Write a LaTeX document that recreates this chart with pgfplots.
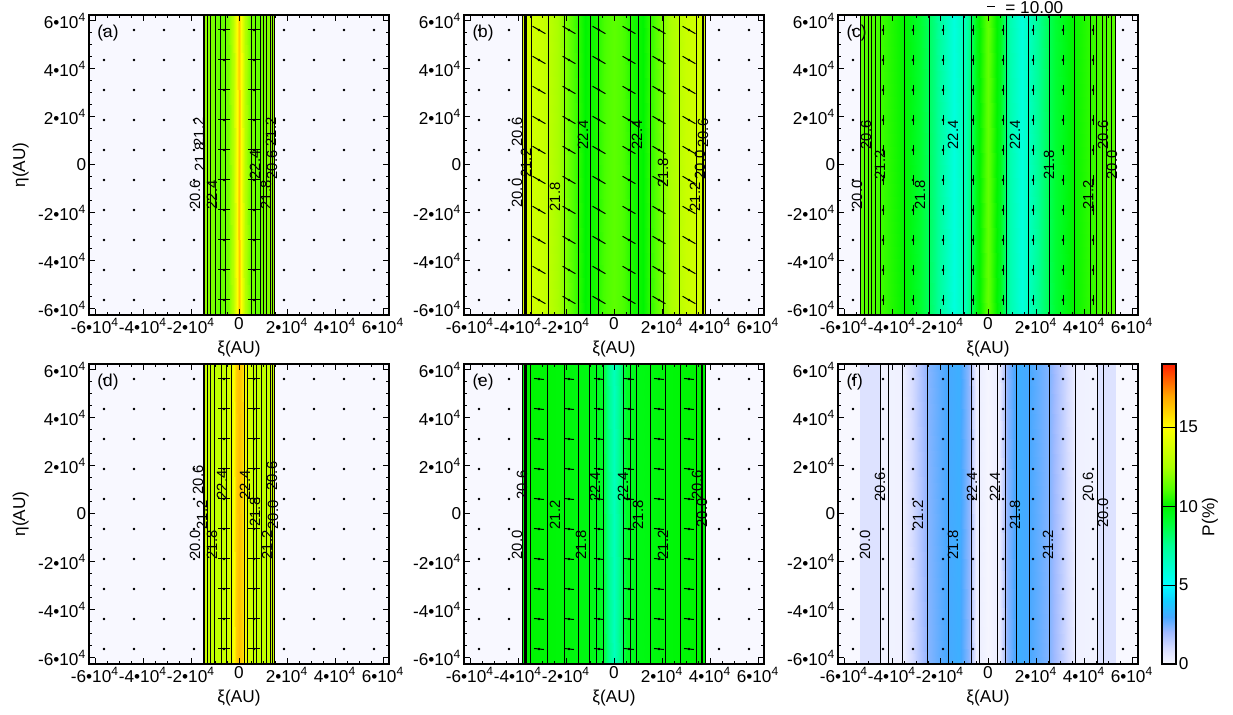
\documentclass[border=0pt]{standalone}
\usepackage{fontspec}
\setmainfont{Liberation Sans}
\usepackage{pgfplots}
\usepackage{pgfplotstable}
\pgfplotsset{compat=1.18}

\newcommand\tlf{\fontsize{8.6bp}{9.5bp}\selectfont}
\newcommand\clf{\fontsize{7.4bp}{8bp}\selectfont}

\tikzset{plab/.style={anchor=north west, inner sep=0pt, font=\tlf}}
\pgfplotsset{
  colormap={pcol}{rgb255(0pt)=(248,248,255) rgb255(1pt)=(214,220,255) rgb255(2pt)=(160,186,255)
    rgb255(3pt)=(72,168,255) rgb255(4pt)=(20,205,255) rgb255(5pt)=(0,255,255) rgb255(7.5pt)=(0,255,150)
    rgb255(9pt)=(0,255,50) rgb255(10pt)=(0,245,0) rgb255(11pt)=(80,255,0) rgb255(12.5pt)=(170,255,0)
    rgb255(15pt)=(255,255,0) rgb255(17pt)=(255,165,0) rgb255(19pt)=(255,30,0)},
  panel/.style={
    anchor=south west, scale only axis, width=150bp, height=150bp,
    xmin=-6.25, xmax=6.25, ymin=-6.25, ymax=6.25, enlargelimits=false,
    axis on top, colormap name=pcol, point meta min=0, point meta max=19,
    xtick={-6,-4,-2,0,2,4,6}, ytick={-6,-4,-2,0,2,4,6},
    xticklabels={-6•10\textsuperscript{4},-4•10\textsuperscript{4},-2•10\textsuperscript{4},0,2•10\textsuperscript{4},4•10\textsuperscript{4},6•10\textsuperscript{4}},
    yticklabels={-6•10\textsuperscript{4},-4•10\textsuperscript{4},-2•10\textsuperscript{4},0,2•10\textsuperscript{4},4•10\textsuperscript{4},6•10\textsuperscript{4}},
    minor tick num=3, tick align=inside,
    major tick length=3bp, minor tick length=1.5bp,
    every tick/.style={black, line width=0.5bp},
    axis line style={line width=0.6bp},
    tick label style={font=\tlf, inner sep=1.2bp},
    label style={font=\tlf},
    xlabel={ξ(AU)},
    xlabel style={yshift=1bp},
  },
  band/.style={surf, shader=interp, point meta=explicit, forget plot},
}

\pgfplotstableread{
y
-5.625
-4.375
-3.125
-1.875
-0.625
0.625
1.875
3.125
4.375
5.625
}\gridy

% dots at every grid point
\newcommand\griddots{\pgfplotsinvokeforeach{-5.625,-4.375,-3.125,-1.875,-0.625,0.625,1.875,3.125,4.375,5.625}{%
  \addplot[black, only marks, mark=*, mark size=0.4bp, forget plot] table[x expr=##1, y=y]{\gridy};}}
% polarisation segments: columns, half length, angle
\newcommand\vecs[3]{\pgfplotsinvokeforeach{#1}{%
  \addplot[black, only marks, mark=-, mark size=#2, mark options={rotate=#3, line width=0.5bp}, forget plot]
    table[x expr=##1, y=y]{\gridy};}}
% vertical contour lines
\newcommand\clines[2][0.45bp]{\addplot[black, only marks, mark=|, mark size=75bp, mark options={line width=#1}, forget plot]
  table[header=false, x index=0, y expr=0, row sep=\\]{#2};}
\newcommand\clab[3]{\node[rotate=90, font=\clf, inner sep=0.3bp] at (axis cs:#1,#2) {#3};}

\begin{document}
\begin{tikzpicture}
\useasboundingbox (0,0) rectangle (616.5bp,357.5bp);

% (a)
\begin{axis}[panel, at={(44.5bp,200bp)}, ylabel={η(AU)}]
\addplot[band] table[meta=p]{
x y p
-6.25 -6.25 0
-1.501 -6.25 0
-1.5 -6.25 12.3
-1.2 -6.25 11.8
-0.8 -6.25 11.3
-0.45 -6.25 11.6
-0.25 -6.25 12.8
-0.1 -6.25 15.0
0 -6.25 16.3
0.1 -6.25 15.0
0.25 -6.25 12.8
0.45 -6.25 11.6
0.8 -6.25 11.3
1.2 -6.25 11.8
1.5 -6.25 12.3
1.501 -6.25 0
6.25 -6.25 0

-6.25 6.25 0
-1.501 6.25 0
-1.5 6.25 12.3
-1.2 6.25 11.8
-0.8 6.25 11.3
-0.45 6.25 11.6
-0.25 6.25 12.8
-0.1 6.25 15.0
0 6.25 16.3
0.1 6.25 15.0
0.25 6.25 12.8
0.45 6.25 11.6
0.8 6.25 11.3
1.2 6.25 11.8
1.5 6.25 12.3
1.501 6.25 0
6.25 6.25 0
};
\griddots
\clines{-1.49\\-1.42\\-1.32\\-1.21\\-0.97\\-0.79\\-0.55\\0.53\\0.67\\0.875\\1.01\\1.15\\1.29\\1.38\\1.49\\}
\vecs{-0.625,0.625}{3bp}{0}
\clab{-1.83}{-1.25}{20.6}\clab{-1.625}{0.33}{21.8}\clab{-1.67}{1.375}{21.2}\clab{-1.125}{-1.25}{22.4}
\clab{0.667}{0}{22.4}\clab{1.125}{-1.25}{21.8}\clab{1.375}{0}{20.6}\clab{1.333}{1.375}{21.2}
\node[plab] at (axis description cs:0.027,0.967) {(a)};
\end{axis}

% (b)
\begin{axis}[panel, at={(232bp,200bp)}]
\addplot[band] table[meta=p]{
x y p
-6.25 -6.25 0
-3.801 -6.25 0
-3.8 -6.25 13.8
-3.0 -6.25 13.4
-2.3 -6.25 12.4
-1.7 -6.25 11.0
-1.2 -6.25 10.0
-0.8 -6.25 10.3
-0.4 -6.25 10.9
0 -6.25 11.2
0.4 -6.25 10.9
0.8 -6.25 10.3
1.2 -6.25 10.0
1.7 -6.25 11.0
2.3 -6.25 12.4
3.0 -6.25 13.4
3.8 -6.25 13.8
3.801 -6.25 0
6.25 -6.25 0

-6.25 6.25 0
-3.801 6.25 0
-3.8 6.25 13.8
-3.0 6.25 13.4
-2.3 6.25 12.4
-1.7 6.25 11.0
-1.2 6.25 10.0
-0.8 6.25 10.3
-0.4 6.25 10.9
0 6.25 11.2
0.4 6.25 10.9
0.8 6.25 10.3
1.2 6.25 10.0
1.7 6.25 11.0
2.3 6.25 12.4
3.0 6.25 13.4
3.8 6.25 13.8
3.801 6.25 0
6.25 6.25 0
};
\griddots
\clines{-3.80\\-3.64\\-3.43\\-2.74\\-2.08\\-1.49\\-1.0\\-0.65\\0.70\\1.01\\1.50\\2.05\\2.72\\3.45\\3.80\\}
\clines[1.1bp]{-3.71\\3.70\\}
\vecs{-3.125,-1.875,-0.625,0.625,1.875,3.125}{3.7bp}{-30}
\clab{-4.04}{-1.17}{20.0}\clab{-3.67}{0.08}{21.2}\clab{-4.04}{1.375}{20.6}\clab{-2.46}{-1.33}{21.8}
\clab{-1.29}{1.25}{22.4}\clab{0.96}{1.25}{22.4}\clab{2.04}{-0.33}{21.8}\clab{3.375}{-1.33}{21.2}
\clab{3.58}{0}{20.0}\clab{3.71}{1.33}{20.6}
\node[plab] at (axis description cs:0.027,0.967) {(b)};
\end{axis}

% (c)
\begin{axis}[panel, at={(419bp,200bp)}]
\addplot[band] table[meta=p]{
x y p
-6.25 -6.25 0
-5.331 -6.25 0
-5.33 -6.25 11.2
-4.5 -6.25 10.8
-3.5 -6.25 10.0
-2.8 -6.25 9.0
-2.2 -6.25 7.8
-1.4 -6.25 5.8
-0.9 -6.25 6.9
-0.5 -6.25 9.5
0 -6.25 11.3
0.5 -6.25 9.5
0.9 -6.25 6.9
1.4 -6.25 5.8
2.2 -6.25 7.8
2.8 -6.25 9.0
3.5 -6.25 10.0
4.5 -6.25 10.8
5.33 -6.25 11.2
5.331 -6.25 0
6.25 -6.25 0

-6.25 6.25 0
-5.331 6.25 0
-5.33 6.25 11.2
-4.5 6.25 10.8
-3.5 6.25 10.0
-2.8 6.25 9.0
-2.2 6.25 7.8
-1.4 6.25 5.8
-0.9 6.25 6.9
-0.5 6.25 9.5
0 6.25 11.3
0.5 6.25 9.5
0.9 6.25 6.9
1.4 6.25 5.8
2.2 6.25 7.8
2.8 6.25 9.0
3.5 6.25 10.0
4.5 6.25 10.8
5.33 6.25 11.2
5.331 6.25 0
6.25 6.25 0
};
\griddots
\clines{-5.3\\-5.15\\-5.0\\-4.85\\-4.7\\-4.5\\-3.5\\-2.46\\-1.03\\-0.68\\0.75\\1.68\\2.56\\3.62\\4.25\\4.5\\4.78\\4.95\\5.15\\5.3\\}
\vecs{-4.375,-3.125,-1.875,-0.625,0.625,1.875,3.125,4.375}{2.6bp}{90}
\clab{-5.46}{-1.25}{20.0}\clab{-5.08}{1.25}{20.6}\clab{-4.5}{0}{21.2}\clab{-2.83}{-1.25}{21.8}
\clab{-1.46}{1.25}{22.4}\clab{1.125}{1.25}{22.4}\clab{2.54}{0}{21.8}\clab{4.17}{-1.25}{21.2}
\clab{4.79}{1.25}{20.6}\clab{5.17}{0}{20.0}
\node[plab] at (axis description cs:0.027,0.967) {(c)};
\end{axis}

% (d)
\begin{axis}[panel, at={(44.5bp,25.5bp)}, ylabel={η(AU)}]
\addplot[band] table[meta=p]{
x y p
-6.25 -6.25 0
-1.501 -6.25 0
-1.5 -6.25 13.5
-1.0 -6.25 13.1
-0.5 -6.25 13.4
-0.3 -6.25 14.3
-0.12 -6.25 16.0
0 -6.25 16.4
0.12 -6.25 16.0
0.3 -6.25 14.3
0.5 -6.25 13.4
1.0 -6.25 13.1
1.5 -6.25 13.5
1.501 -6.25 0
6.25 -6.25 0

-6.25 6.25 0
-1.501 6.25 0
-1.5 6.25 13.5
-1.0 6.25 13.1
-0.5 6.25 13.4
-0.3 6.25 14.3
-0.12 6.25 16.0
0 6.25 16.4
0.12 6.25 16.0
0.3 6.25 14.3
0.5 6.25 13.4
1.0 6.25 13.1
1.5 6.25 13.5
1.501 6.25 0
6.25 6.25 0
};
\griddots
\clines{-1.49\\-1.42\\-1.32\\-1.2\\-1.02\\-0.75\\-0.54\\-0.3\\0.22\\0.35\\0.6\\0.74\\0.95\\1.15\\1.29\\1.40\\1.49\\}
\vecs{-0.625,0.625}{3bp}{0}
\clab{-1.83}{-1.29}{20.0}\clab{-1.54}{-0.04}{21.2}\clab{-1.71}{1.42}{20.6}\clab{-1.125}{-1.29}{21.8}
\clab{-0.71}{1.21}{22.4}\clab{0.25}{1.21}{22.4}\clab{0.67}{0.08}{21.8}\clab{1.17}{-1.29}{21.2}
\clab{1.42}{-0.04}{20.0}\clab{1.375}{1.58}{20.6}
\node[plab] at (axis description cs:0.027,0.967) {(d)};
\end{axis}

% (e)
\begin{axis}[panel, at={(232bp,25.5bp)}]
\addplot[band] table[meta=p]{
x y p
-6.25 -6.25 0
-3.801 -6.25 0
-3.8 -6.25 10.0
-2 -6.25 9.8
-1 -6.25 9.6
-0.5 -6.25 9.2
-0.3 -6.25 8.0
0 -6.25 6.6
0.3 -6.25 8.0
0.5 -6.25 9.2
1 -6.25 9.6
2 -6.25 9.8
3.8 -6.25 10.0
3.801 -6.25 0
6.25 -6.25 0

-6.25 6.25 0
-3.801 6.25 0
-3.8 6.25 10.0
-2 6.25 9.8
-1 6.25 9.6
-0.5 6.25 9.2
-0.3 6.25 8.0
0 6.25 6.6
0.3 6.25 8.0
0.5 6.25 9.2
1 6.25 9.6
2 6.25 9.8
3.8 6.25 10.0
3.801 6.25 0
6.25 6.25 0
};
\griddots
\clines{-3.80\\-3.64\\-3.5\\-2.76\\-2.08\\-1.5\\-1.03\\-0.72\\-0.45\\0.39\\0.67\\0.95\\1.5\\2.125\\2.78\\3.45\\3.8\\}
\clines[1.1bp]{-3.71\\3.65\\}
\vecs{-3.125,-1.875,-0.625,0.625,1.875,3.125}{2.5bp}{-6}
\clab{-3.83}{1.21}{20.6}\clab{-4.04}{-1.29}{20.0}\clab{-2.46}{-0.04}{21.2}\clab{-1.375}{-1.29}{21.8}
\clab{-0.79}{1.125}{22.4}\clab{0.375}{1.125}{22.4}\clab{1.0}{-0.04}{21.8}\clab{2.04}{-1.29}{21.2}
\clab{3.46}{1.21}{20.6}\clab{3.67}{0.04}{20.0}
\node[plab] at (axis description cs:0.027,0.967) {(e)};
\end{axis}

% (f)
\begin{axis}[panel, at={(419bp,25.5bp)}]
\addplot[band] table[meta=p]{
x y p
-6.25 -6.25 0
-5.331 -6.25 0
-5.33 -6.25 0.8
-4.48 -6.25 0.8
-4.47 -6.25 0.2
-3.6 -6.25 0.25
-3.0 -6.25 1.3
-2.5 -6.25 2.3
-1.7 -6.25 3.0
-1.2 -6.25 3.2
-0.8 -6.25 2.2
-0.5 -6.25 0.4
0 -6.25 0.1
0.45 -6.25 0.4
0.8 -6.25 2.2
1.2 -6.25 3.2
1.7 -6.25 3.0
2.6 -6.25 2.3
3.2 -6.25 1.2
3.7 -6.25 0.25
4.54 -6.25 0.2
4.55 -6.25 0.8
5.33 -6.25 0.8
5.331 -6.25 0
6.25 -6.25 0

-6.25 6.25 0
-5.331 6.25 0
-5.33 6.25 0.8
-4.48 6.25 0.8
-4.47 6.25 0.2
-3.6 6.25 0.25
-3.0 6.25 1.3
-2.5 6.25 2.3
-1.7 6.25 3.0
-1.2 6.25 3.2
-0.8 6.25 2.2
-0.5 6.25 0.4
0 6.25 0.1
0.45 6.25 0.4
0.8 6.25 2.2
1.2 6.25 3.2
1.7 6.25 3.0
2.6 6.25 2.3
3.2 6.25 1.2
3.7 6.25 0.25
4.54 6.25 0.2
4.55 6.25 0.8
5.33 6.25 0.8
5.331 6.25 0
6.25 6.25 0
};
\griddots
\clines{-4.47\\-4.14\\-3.58\\-2.53\\-1.66\\-0.69\\-0.35\\0.39\\0.74\\1.18\\1.71\\2.57\\3.65\\4.55\\4.83\\}
\clab{-5.125}{-1.29}{20.0}\clab{-4.5}{1.125}{20.6}\clab{-2.92}{-0.04}{21.2}\clab{-1.46}{-1.29}{21.8}
\clab{-0.67}{1.125}{22.4}\clab{0.29}{1.125}{22.4}\clab{1.125}{-0.04}{21.8}\clab{2.5}{-1.29}{21.2}
\clab{4.17}{1.125}{20.6}\clab{4.79}{0.04}{20.0}
\node[plab] at (axis description cs:0.027,0.967) {(f)};
\end{axis}

% colour bar
\begin{axis}[anchor=south west, at={(581bp,25.5bp)}, scale only axis, width=7bp, height=150bp,
  xmin=0, xmax=1, ymin=0, ymax=19, enlargelimits=false, xtick=\empty,
  ytick={0,5,10,15}, yticklabels={0,5,10,15}, yticklabel pos=right, ytick pos=right, major tick length=0pt,
  ymajorgrids, grid style={black, line width=0.5bp}, axis on top,
  axis line style={line width=0.6bp},
  colormap name=pcol, point meta min=0, point meta max=19,
  tick label style={font=\tlf, inner sep=1.2bp}]
\addplot[surf, shader=interp, point meta=explicit] table[meta=p]{
x y p
0 0 0
1 0 0

0 1 1
1 1 1

0 2 2
1 2 2

0 3 3
1 3 3

0 4 4
1 4 4

0 5 5
1 5 5

0 7.5 7.5
1 7.5 7.5

0 9 9
1 9 9

0 10 10
1 10 10

0 11 11
1 11 11

0 12.5 12.5
1 12.5 12.5

0 15 15
1 15 15

0 17 17
1 17 17

0 19 19
1 19 19
};
\end{axis}
\node[rotate=90, font=\tlf] at (605bp,99bp) {P(\%)};

% vector scale key
\draw[line width=0.5bp] (493.5bp,354bp) -- (497.5bp,354bp);
\node[anchor=west, font=\tlf, inner sep=0pt] at (502.5bp,353.5bp) {= 10.00};
\end{tikzpicture}
\end{document}
